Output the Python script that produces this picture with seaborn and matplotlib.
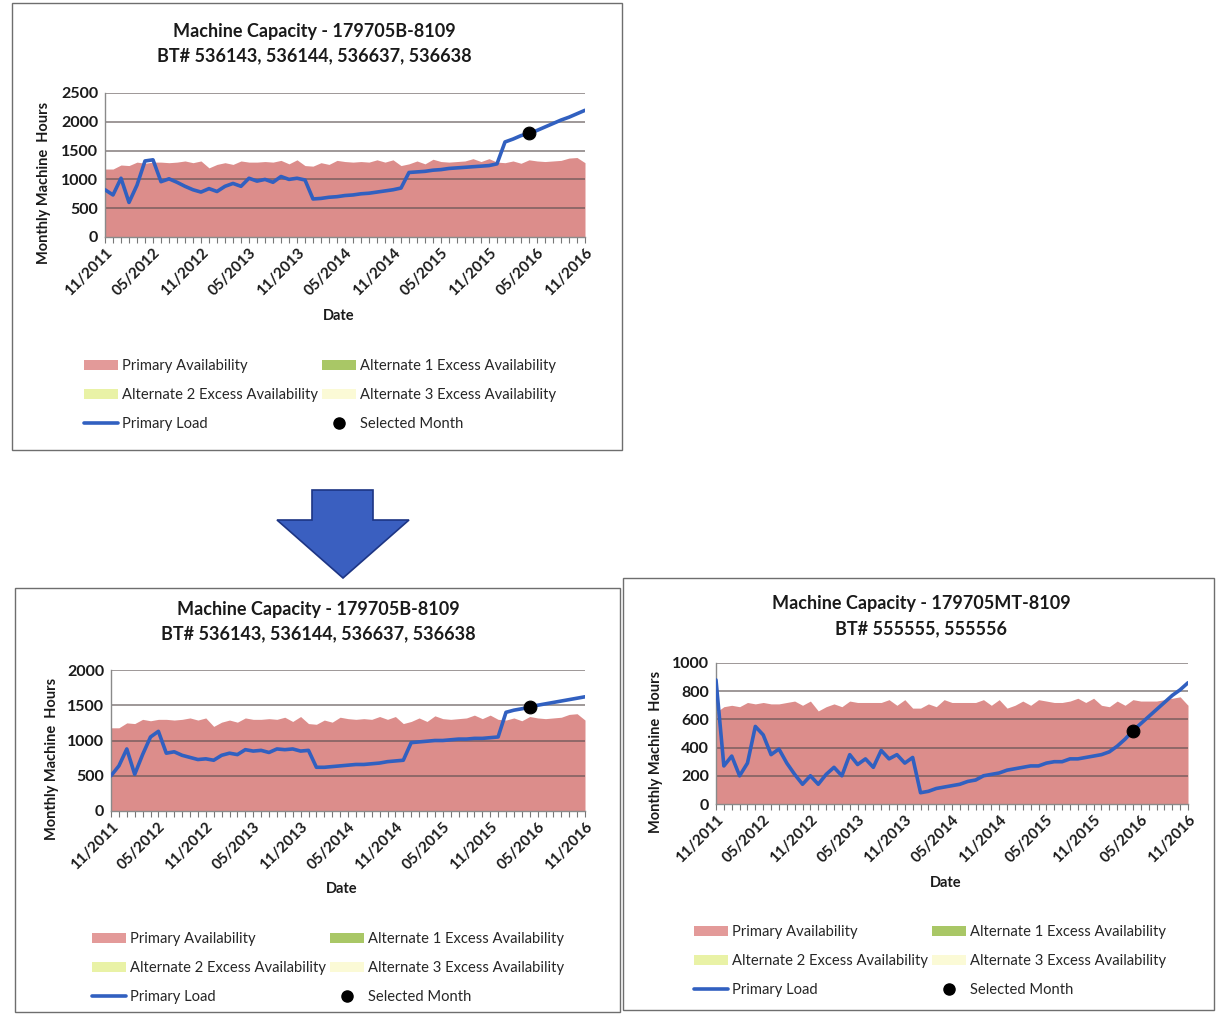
import numpy as np
import pandas as pd
import matplotlib
matplotlib.use("Agg")
import matplotlib.pyplot as plt
from matplotlib.patches import Rectangle, Polygon, Patch
from matplotlib.lines import Line2D
import seaborn as sns

sns.set_theme(style="white")
plt.rcParams["font.family"] = ["Lato", "DejaVu Sans"]

# Monthly periods 11/2011 .. 11/2016
tick_labels = ["11/2011", "05/2012", "11/2012", "05/2013", "11/2013", "05/2014",
               "11/2014", "05/2015", "11/2015", "05/2016", "11/2016"]
months = list(range(61))

avail_b = [1180, 1180, 1250, 1240, 1300, 1280, 1300, 1300, 1290, 1300, 1320, 1290,
           1320, 1200, 1260, 1290, 1260, 1320, 1300, 1300, 1310, 1300, 1330, 1270,
           1340, 1240, 1230, 1290, 1260, 1330, 1310, 1300, 1310, 1300, 1340, 1300,
           1340, 1240, 1270, 1320, 1270, 1350, 1310, 1300, 1310, 1320, 1360, 1310,
           1360, 1300, 1290, 1320, 1280, 1340, 1320, 1310, 1320, 1330, 1370, 1380, 1290]

load_before = [820, 730, 1020, 600, 900, 1320, 1340, 960, 1010, 950, 880, 820,
               780, 840, 790, 880, 930, 880, 1020, 970, 1000, 950, 1050, 1000,
               1020, 990, 660, 670, 690, 700, 720, 730, 750, 760, 780, 800,
               820, 850, 1120, 1130, 1140, 1160, 1170, 1190, 1200, 1210, 1220, 1230,
               1240, 1270, 1650, 1700, 1760, 1800, 1850, 1910, 1970, 2030, 2080, 2140, 2200]

load_after = [500, 640, 880, 520, 800, 1050, 1130, 820, 840, 790, 760, 730,
              740, 720, 790, 820, 800, 870, 850, 860, 830, 880, 870, 880,
              850, 860, 620, 620, 630, 640, 650, 660, 660, 670, 680, 700,
              710, 720, 970, 980, 990, 1000, 1000, 1010, 1020, 1020, 1030, 1030,
              1040, 1050, 1400, 1430, 1450, 1470, 1500, 1520, 1540, 1560, 1580, 1600, 1620]

avail_mt = [650, 690, 700, 690, 720, 710, 720, 710, 710, 720, 730, 700,
            730, 660, 690, 710, 690, 730, 720, 720, 720, 720, 740, 700,
            740, 680, 680, 710, 690, 740, 720, 720, 720, 720, 740, 700,
            740, 680, 700, 730, 700, 740, 730, 720, 720, 730, 750, 720,
            750, 700, 690, 730, 700, 740, 730, 730, 730, 740, 750, 760, 700]

load_mt = [880, 270, 340, 200, 290, 550, 490, 350, 390, 290, 210, 140,
           200, 140, 210, 260, 200, 350, 280, 320, 260, 380, 320, 350,
           290, 330, 80, 90, 110, 120, 130, 140, 160, 170, 200, 210,
           220, 240, 250, 260, 270, 270, 290, 300, 300, 320, 320, 330,
           340, 350, 370, 410, 460, 520, 570, 620, 670, 720, 770, 810, 860]

selected_month = 53

titles = [
    ("Machine Capacity - 179705B-8109", "BT# 536143, 536144, 536637, 536638"),
    ("Machine Capacity - 179705B-8109", "BT# 536143, 536144, 536637, 536638"),
    ("Machine Capacity - 179705MT-8109", "BT# 555555, 555556"),
]
y_ticks = [list(range(0, 2501, 500)), list(range(0, 2001, 500)), list(range(0, 1001, 200))]
series = [(avail_b, load_before), (avail_b, load_after), (avail_mt, load_mt)]

FILL = "#dc8d8b"
LINE = "#3160c0"
GRID = "#5a5050"

W, H = 1216, 1014
fig = plt.figure(figsize=(W / 100, H / 100), dpi=100)
fig.patch.set_facecolor("white")


def fx(px):
    return px / W


def fy(py):
    return 1 - py / H


# chart panels: (left, top, right, bottom) of plot area in pixels
plot_boxes = [(105, 93, 585, 237), (111, 670, 585, 811), (716, 663, 1188, 804)]
frames = [(12, 3, 622, 450), (15, 588, 620, 1012), (623, 578, 1214, 1010)]
title_pos = [(314, 32, 56), (318, 610, 634), (921, 604, 629)]
ylabel_x = [44, 52, 656]
date_y = [316, 889, 883]
legend_pos = [(77, 352), (85, 925), (687, 918)]

for i in range(3):
    fl, ft, fr, fb = frames[i]
    fig.patches.append(Rectangle((fx(fl), fy(fb)), fx(fr - fl), (fb - ft) / H,
                                 transform=fig.transFigure, fill=False,
                                 edgecolor="#6e6e6e", linewidth=1.0))

    l, t, r, b = plot_boxes[i]
    ax = fig.add_axes([fx(l), fy(b), fx(r - l), (b - t) / H])
    avail, load = series[i]
    df = pd.DataFrame({"month": months, "avail": avail, "load": load})

    ax.fill_between(df["month"], 0, df["avail"], color=FILL, linewidth=0, zorder=1)
    for v in y_ticks[i][1:]:
        ax.axhline(v, color=GRID, linewidth=1.1, alpha=0.75, zorder=2)
    sns.lineplot(data=df, x="month", y="load", ax=ax, color=LINE, linewidth=2.6,
                 zorder=3, legend=False)
    sel = df[df["month"] == selected_month]
    sns.scatterplot(data=sel, x="month", y="load", ax=ax, color="black", s=85,
                    edgecolor="black", zorder=4, legend=False)

    ax.set_xlim(0, 60)
    ax.set_ylim(0, y_ticks[i][-1])
    ax.set_yticks(y_ticks[i])
    ax.set_yticklabels([str(v) for v in y_ticks[i]], fontsize=11.5, fontweight="bold",
                       color="#1a1a1a")
    ax.set_xticks(range(0, 61, 6))
    ax.set_xticks(range(0, 61, 1), minor=True)
    ax.set_xticklabels(tick_labels, rotation=45, ha="right", rotation_mode="anchor",
                       fontsize=11, fontweight="bold", color="#1a1a1a")
    ax.tick_params(axis="x", which="both", direction="out", length=4, width=0.8,
                   color="#777777", pad=2, bottom=True)
    ax.tick_params(axis="y", length=0, pad=5)
    ax.set_xlabel("")
    ax.set_ylabel("")
    ax.set_facecolor("none")
    for s in ["top", "right"]:
        ax.spines[s].set_visible(False)
    for s in ["left", "bottom"]:
        ax.spines[s].set_color("#8a8a8a")
        ax.spines[s].set_linewidth(1.0)

    tx, ty1, ty2 = title_pos[i]
    fig.text(fx(tx), fy(ty1), titles[i][0], ha="center", va="center",
             fontsize=13, fontweight="bold", color="#1a1a1a")
    fig.text(fx(tx), fy(ty2), titles[i][1], ha="center", va="center",
             fontsize=13, fontweight="bold", color="#1a1a1a")
    fig.text(fx(ylabel_x[i]), fy((t + b) / 2 + 18), "Monthly Machine  Hours",
             rotation=90, ha="center", va="center", fontsize=10.5, fontweight="bold",
             color="#1a1a1a")
    fig.text(fx((l + r) / 2 - 6), fy(date_y[i]), "Date", ha="center", va="center",
             fontsize=10.5, fontweight="bold", color="#1a1a1a")

    handles = [
        Patch(facecolor="#e39a99", edgecolor="none", label="Primary Availability"),
        Patch(facecolor="#e9f2a6", edgecolor="none", label="Alternate 2 Excess Availability"),
        Line2D([0], [0], color=LINE, linewidth=2.6, label="Primary Load"),
        Patch(facecolor="#a9c766", edgecolor="none", label="Alternate 1 Excess Availability"),
        Patch(facecolor="#fbfad6", edgecolor="none", label="Alternate 3 Excess Availability"),
        Line2D([0], [0], color="none", marker="o", markerfacecolor="black",
               markeredgecolor="black", markersize=8, label="Selected Month"),
    ]
    lx, ly = legend_pos[i]
    fig.legend(handles=handles, loc="upper left", bbox_to_anchor=(fx(lx), fy(ly)),
               bbox_transform=fig.transFigure, ncol=2, frameon=False, fontsize=10.6,
               handlelength=2.3, handleheight=0.6, handletextpad=0.25,
               columnspacing=0.3, labelspacing=1.0, borderpad=0)

# down arrow between the two versions
arrow_px = [(312, 490), (373, 490), (373, 520), (409, 520), (343, 578),
            (277, 520), (312, 520)]
fig.patches.append(Polygon([(fx(x), fy(y)) for x, y in arrow_px], closed=True,
                           transform=fig.transFigure, facecolor="#3a5fc0",
                           edgecolor="#1d3584", linewidth=1.2))

fig.savefig("out.png", dpi=100, facecolor="white")
